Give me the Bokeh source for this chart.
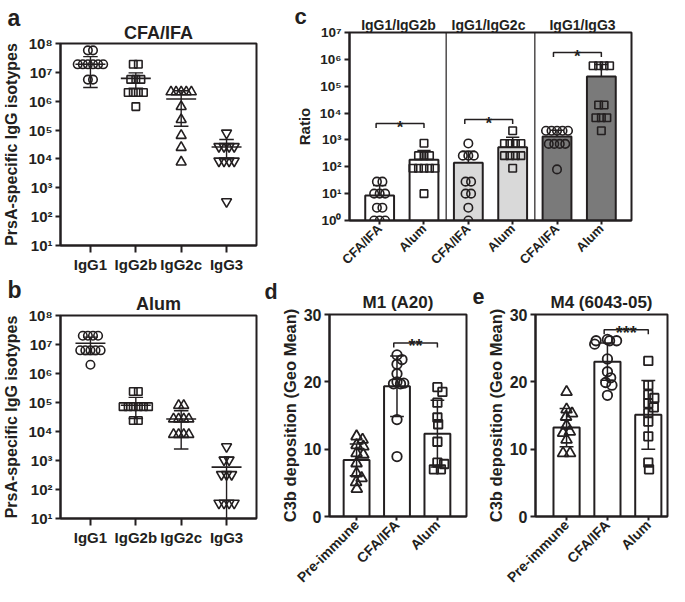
import math
import numpy as np
from bokeh.plotting import figure
from bokeh.layouts import row, column
from bokeh.models import Range1d, FixedTicker, Label, Title, LinearAxis
from bokeh.embed import file_html
from bokeh.resources import INLINE

FONT = "Liberation Sans"
INK = "#231f20"

# ---------------- data ----------------
isotypes = ["IgG1", "IgG2b", "IgG2c", "IgG3"]

# panel a : CFA/IFA
cfa_igg1 = [5.8e7, 5.8e7, 1.9e7, 1.9e7, 1.9e7, 1.9e7, 1.9e7, 1.9e7, 5.6e6, 5.6e6]
cfa_igg2b = [1.9e7, 1.9e7, 5.7e6, 5.7e6, 5.7e6, 2.0e6, 2.0e6, 2.0e6, 2.0e6, 6.5e5]
cfa_igg2c = [2.1e6, 2.1e6, 2.1e6, 2.1e6, 2.1e6, 6.5e5, 2.3e5, 6.5e4, 2.5e4, 7.8e3]
cfa_igg3 = [7.9e4, 2.7e4, 2.7e4, 2.7e4, 2.7e4, 8.5e3, 8.5e3, 8.5e3, 8.5e3, 3.3e2]
cfa_mean = [1.9e7, 6.2e6, 1.2e6, 2.6e4]
cfa_low = [3.0e6, 2.8e6, 1.35e5, 1.0e4]
cfa_high = [3.5e7, 9.6e6, 2.3e6, 4.7e4]

# panel b : Alum
alum_igg1 = [2.0e7, 2.0e7, 2.0e7, 2.0e7, 6.3e6, 6.3e6, 6.3e6, 6.3e6, 6.3e6, 2.0e6]
alum_igg2b = [2.4e5, 2.4e5, 7.2e4, 7.2e4, 7.2e4, 7.2e4, 7.2e4, 7.2e4, 2.4e4, 2.4e4]
alum_igg2c = [7.9e4, 7.9e4, 2.7e4, 2.7e4, 2.7e4, 2.7e4, 7.9e3, 7.9e3, 7.9e3, 7.9e3]
alum_igg3 = [3.0e3, 1.05e3, 1.05e3, 3.3e2, 3.3e2, 3.3e2, 34, 34, 34, 34]
alum_mean = [1.1e7, 8.0e4, 2.7e4, 5.9e2]
alum_low = [4.5e6, 2.8e4, 2.5e3, 1.0]
alum_high = [1.8e7, 1.5e5, 5.2e4, 1.3e3]

# panel c : ratios
ratio_titles = ["IgG1/IgG2b", "IgG1/IgG2c", "IgG1/IgG3"]
ratio_cats = ["CFA/IFA", "Alum", "CFA/IFA", "Alum", "CFA/IFA", "Alum"]
ratio_2b_cfa = [28, 28, 10, 10, 10, 3, 3, 1, 1, 1]
ratio_2b_alum = [750, 260, 260, 260, 88, 88, 88, 88, 88, 10]
ratio_2c_cfa = [740, 260, 260, 260, 28, 28, 10, 10, 3, 1]
ratio_2c_alum = [2200, 740, 740, 740, 740, 260, 260, 260, 260, 88]
ratio_3_cfa = [2200, 2200, 2200, 2200, 2200, 710, 710, 710, 710, 80]
ratio_3_alum = [5.8e5, 5.8e5, 5.8e5, 5.8e5, 2.0e4, 2.0e4, 6.7e3, 6.7e3, 6.7e3, 2.2e3]
ratio_bar = [8.5, 182, 141, 535, 1340, 2.3e5]
ratio_err = [20, 405, 380, 1260, 2300, 6.5e5]
ratio_fill = ["#ffffff", "#ffffff", "#d9d9d9", "#d9d9d9", "#7a7a7a", "#7a7a7a"]

# panels d / e : C3b deposition
c3b_cats = ["Pre-immune", "CFA/IFA", "Alum"]
m1_pre = [11.4, 11.9, 10.6, 10.4, 9.4, 9.2, 7.9, 6.4, 5.7, 5.1, 4.1]
m1_cfa = [24.0, 23.3, 22.6, 21.2, 20.0, 19.8, 19.7, 19.7, 14.4, 8.9]
m1_alum = [19.2, 18.5, 16.9, 14.7, 13.7, 11.1, 8.0, 7.8, 7.0, 7.0]
m1_mean = [8.4, 19.35, 12.3]
m1_sd = [2.35, 4.5, 4.95]
m4_pre = [18.5, 15.9, 15.3, 14.8, 13.5, 12.6, 12.4, 11.4, 9.4, 9.4]
m4_cfa = [26.3, 26.1, 26.1, 26.1, 25.6, 23.4, 21.5, 20.6, 19.9, 19.5, 18.0]
m4_alum = [23.1, 19.5, 18.1, 17.6, 16.8, 16.2, 15.4, 14.1, 11.9, 8.0, 7.0]
m4_mean = [13.2, 23.0, 15.1]
m4_sd = [2.85, 2.75, 5.1]

SUP = str.maketrans("0123456789-", "⁰¹²³⁴⁵⁶⁷⁸⁹⁻")


def pow_label(k):
    return "10" + str(k).translate(SUP)


# ---------------- geometry (page pixels) ----------------
GA = dict(ox=8, oy=0, w=262, h=275, L=62, R=264, T=43, B=247, x=(0.34, 4.66), y=(10, 1e8), log=True)
GB = dict(ox=8, oy=275, w=262, h=319, L=62, R=264, T=315, B=518, x=(0.34, 4.66), y=(10, 1e8), log=True)
GC = dict(ox=270, oy=0, w=407, h=278, L=357, R=639, T=32, B=220, x=(0.32, 6.68), y=(1, 1e7), log=True)
GD = dict(ox=270, oy=278, w=208, h=316, L=337, R=474, T=314, B=517, x=(0.33, 3.72), y=(0, 30), log=False)
GE = dict(ox=478, oy=278, w=199, h=316, L=543, R=675, T=314, B=517, x=(0.24, 3.47), y=(0, 30), log=False)


def px2x(g, px):
    x0, x1 = g["x"]
    return x0 + (px - g["L"]) / (g["R"] - g["L"]) * (x1 - x0)


def py2y(g, py):
    y0, y1 = g["y"]
    t = (g["B"] - py) / (g["B"] - g["T"])
    if g["log"]:
        return 10 ** (math.log10(y0) + t * (math.log10(y1) - math.log10(y0)))
    return y0 + t * (y1 - y0)


def ypix(g, v):
    y0, y1 = g["y"]
    if g["log"]:
        t = (math.log10(v) - math.log10(y0)) / (math.log10(y1) - math.log10(y0))
    else:
        t = (v - y0) / (y1 - y0)
    return g["B"] - t * (g["B"] - g["T"])


def swarm(g, vals, d):
    ys = np.array([ypix(g, v) for v in vals])
    order = np.argsort(ys, kind="stable")
    cands = [0.0]
    for k in range(1, 400):
        cands += [k * 0.25, -k * 0.25]
    placed = []
    off = np.zeros(len(vals))
    for i in order:
        y = ys[i]
        for c in cands:
            if all((c - qx) ** 2 + (y - qy) ** 2 >= d * d - 1e-6 for qx, qy in placed):
                break
        off[i] = c
        placed.append((c, y))
    vals_arr = np.array(vals, dtype=float)
    for v in np.unique(vals_arr):
        idx = np.where(vals_arr == v)[0]
        if len(idx) > 1:
            off[idx] -= off[idx].mean()
    ppu = (g["R"] - g["L"]) / (g["x"][1] - g["x"][0])
    return off / ppu


def make_fig(g):
    p = figure(width=g["w"], height=g["h"], x_range=Range1d(*g["x"]), y_range=Range1d(*g["y"]),
               y_axis_type="log" if g["log"] else "linear",
               output_backend="svg", toolbar_location=None,
               min_border_left=g["L"] - g["ox"], min_border_right=g["ox"] + g["w"] - g["R"],
               min_border_top=g["T"] - g["oy"], min_border_bottom=g["oy"] + g["h"] - g["B"])
    p.background_fill_color = "white"
    p.border_fill_color = "white"
    p.outline_line_color = INK
    p.outline_line_width = 2
    p.xgrid.visible = False
    p.ygrid.visible = False
    for ax in p.axis:
        ax.axis_line_color = INK
        ax.axis_line_width = 2
        ax.major_tick_line_color = INK
        ax.major_tick_line_width = 2
        ax.major_tick_in = 0
        ax.minor_tick_line_color = None
        ax.major_label_text_font = FONT
        ax.major_label_text_font_style = "bold"
        ax.major_label_text_color = INK
        ax.axis_label_text_font = FONT
        ax.axis_label_text_font_style = "bold"
        ax.axis_label_text_color = INK
        ax.major_label_standoff = 3
    return p


def add_title(p, text, size, standoff, align="center", offset=0):
    p.add_layout(Title(text=text, align=align, offset=offset, standoff=standoff,
                       text_font=FONT, text_font_style="bold", text_font_size=f"{size}px",
                       text_color=INK), "above")


def style_x(p, labels, size, tick_len, orient=None):
    ticks = list(range(1, len(labels) + 1))
    p.xaxis.ticker = FixedTicker(ticks=ticks)
    p.xaxis.major_label_overrides = {t: lab for t, lab in zip(ticks, labels)}
    p.xaxis.major_label_text_font_size = f"{size}px"
    p.xaxis.major_tick_out = tick_len
    if orient is not None:
        p.xaxis.major_label_orientation = orient
        p.xaxis.major_label_standoff = 2


# ---------------- panels a / b ----------------
def iso_panel(g, series, mean, low, high, title, letter, t_standoff, l_standoff):
    p = make_fig(g)
    style_x(p, isotypes, 15, 7)
    p.yaxis.ticker = FixedTicker(ticks=[10 ** k for k in range(1, 9)])
    p.yaxis.major_label_overrides = {10 ** k: pow_label(k) for k in range(1, 9)}
    p.yaxis.major_label_text_font_size = "15px"
    p.yaxis.major_tick_out = 5
    p.yaxis.axis_label = "PrsA-specific IgG isotypes"
    p.yaxis.axis_label_text_font_size = "16px"
    p.yaxis.axis_label_standoff = 5
    markers = [("circle", 8.5), ("square", 7.5), ("triangle", 10), ("inverted_triangle", 10)]
    for i, vals in enumerate(series):
        off = swarm(g, vals, 5.2)
        m, s = markers[i]
        p.scatter((i + 1) + off, vals, marker=m, size=s, fill_color=None, line_color=INK, line_width=1.6)
    xs = np.arange(1, 5)
    p.segment(xs - 0.33, mean, xs + 0.33, mean, line_color=INK, line_width=1.6)
    p.segment(xs, low, xs, high, line_color=INK, line_width=1.4)
    p.segment(xs - 0.16, low, xs + 0.16, low, line_color=INK, line_width=1.4)
    p.segment(xs - 0.16, high, xs + 0.16, high, line_color=INK, line_width=1.4)
    add_title(p, title, 18, t_standoff)
    add_title(p, letter, 23, l_standoff, align="left", offset=9 - g["L"])
    return p


pa = iso_panel(GA, [cfa_igg1, cfa_igg2b, cfa_igg2c, cfa_igg3], cfa_mean, cfa_low, cfa_high,
               "CFA/IFA", "a", 2, -22)
pb = iso_panel(GB, [alum_igg1, alum_igg2b, alum_igg2c, alum_igg3], alum_mean, alum_low, alum_high,
               "Alum", "b", 4, -26)

# ---------------- panel c ----------------
pc = make_fig(GC)
style_x(pc, ratio_cats, 13, 4, orient=math.pi / 4)
pc.yaxis.ticker = FixedTicker(ticks=[10 ** k for k in range(0, 8)])
pc.yaxis.major_label_overrides = {10 ** k: pow_label(k) for k in range(0, 8)}
pc.yaxis.major_label_text_font_size = "13.5px"
pc.yaxis.major_tick_out = 5
pc.yaxis.axis_label = "Ratio"
pc.yaxis.axis_label_text_font_size = "15px"
pc.yaxis.axis_label_standoff = 4

# group titles as an axis above the frame
top_ticks = [px2x(GC, 406), px2x(GC, 496), px2x(GC, 590)]
top_axis = LinearAxis(ticker=FixedTicker(ticks=top_ticks),
                      major_label_overrides={t: s for t, s in zip(top_ticks, ratio_titles)})
top_axis.axis_line_color = None
top_axis.major_tick_line_color = None
top_axis.minor_tick_line_color = None
top_axis.major_tick_out = 0
top_axis.major_tick_in = 0
top_axis.major_label_standoff = 0
top_axis.major_label_text_font = FONT
top_axis.major_label_text_font_style = "bold"
top_axis.major_label_text_font_size = "14px"
top_axis.major_label_text_color = INK
pc.add_layout(top_axis, "above")
add_title(pc, "c", 22, -30, align="left", offset=302 - GC["L"])

cx = np.arange(1, 7)
pc.segment([2.5, 4.5], [1, 1], [2.5, 4.5], [1e7, 1e7], line_color=INK, line_width=1.2)
pc.vbar(x=cx, width=0.65, top=ratio_bar, bottom=1, fill_color=ratio_fill, line_color=INK, line_width=2)
pc.segment(cx, ratio_bar, cx, ratio_err, line_color=INK, line_width=1.5)
pc.segment(cx - 0.15, ratio_err, cx + 0.15, ratio_err, line_color=INK, line_width=1.5)
ratio_series = [ratio_2b_cfa, ratio_2b_alum, ratio_2c_cfa, ratio_2c_alum, ratio_3_cfa, ratio_3_alum]
for i, vals in enumerate(ratio_series):
    off = swarm(GC, vals, 5.5)
    m, s = ("circle", 8.5) if i % 2 == 0 else ("square", 7.5)
    pc.scatter((i + 1) + off, vals, marker=m, size=s, fill_color=None, line_color=INK, line_width=1.6)
for (a, b, py) in [(1, 2, 123), (3, 4, 119), (5, 6, 52)]:
    yb = py2y(GC, py)
    yt = py2y(GC, py + 4.5)
    xa, xb = a - 0.08, b
    pc.line([xa, xa, xb, xb], [yt, yb, yb, yt], line_color=INK, line_width=1.5)
    pc.add_layout(Label(x=(xa + xb) / 2, y=py2y(GC, py + 4), text="*", text_font=FONT,
                        text_font_style="bold", text_font_size="17px", text_align="center",
                        text_baseline="alphabetic", text_color=INK))


# ---------------- panels d / e ----------------
def c3b_panel(g, series, mean, sd, title, letter, letter_x, br_py, stars):
    p = make_fig(g)
    style_x(p, c3b_cats, 14, 4, orient=math.pi / 4)
    p.yaxis.ticker = FixedTicker(ticks=[0, 10, 20, 30])
    p.yaxis.major_label_text_font_size = "16px"
    p.yaxis.major_tick_out = 5
    p.yaxis.axis_label = "C3b deposition (Geo Mean)"
    p.yaxis.axis_label_text_font_size = "16.5px"
    p.yaxis.axis_label_standoff = 2
    xs = np.arange(1, 4)
    p.vbar(x=xs, width=0.64, top=mean, bottom=0, fill_color="white", line_color=INK, line_width=2)
    lo = np.array(mean) - np.array(sd)
    hi = np.array(mean) + np.array(sd)
    p.segment(xs, lo, xs, hi, line_color=INK, line_width=1.5)
    p.segment(xs - 0.17, lo, xs + 0.17, lo, line_color=INK, line_width=1.5)
    p.segment(xs - 0.17, hi, xs + 0.17, hi, line_color=INK, line_width=1.5)
    markers = [("triangle", 11), ("circle", 9.5), ("square", 8.5)]
    for i, vals in enumerate(series):
        off = swarm(g, vals, 6.8)
        m, s = markers[i]
        p.scatter((i + 1) + off, vals, marker=m, size=s, fill_color=None, line_color=INK, line_width=1.8)
    yb = py2y(g, br_py)
    yt = py2y(g, br_py + 4.5)
    xa, xb = 1.92, 3.0
    p.line([xa, xa, xb, xb], [yt, yb, yb, yt], line_color=INK, line_width=1.5)
    p.add_layout(Label(x=(xa + xb) / 2, y=py2y(g, br_py + 3), text=stars, text_font=FONT,
                       text_font_style="bold", text_font_size="18px", text_align="center",
                       text_baseline="alphabetic", text_color=INK))
    add_title(p, title, 17, 5)
    add_title(p, letter, 21.5, -30, align="left", offset=letter_x - g["L"])
    return p


pd_ = c3b_panel(GD, [m1_pre, m1_cfa, m1_alum], m1_mean, m1_sd, "M1 (A20)", "d", 272, 342.7, "**")
pe = c3b_panel(GE, [m4_pre, m4_cfa, m4_alum], m4_mean, m4_sd, "M4 (6043-05)", "e", 480, 329.3, "***")

layout = row(column(pa, pb), column(pc, row(pd_, pe)))
open("out.html", "w").write(file_html(layout, INLINE))
